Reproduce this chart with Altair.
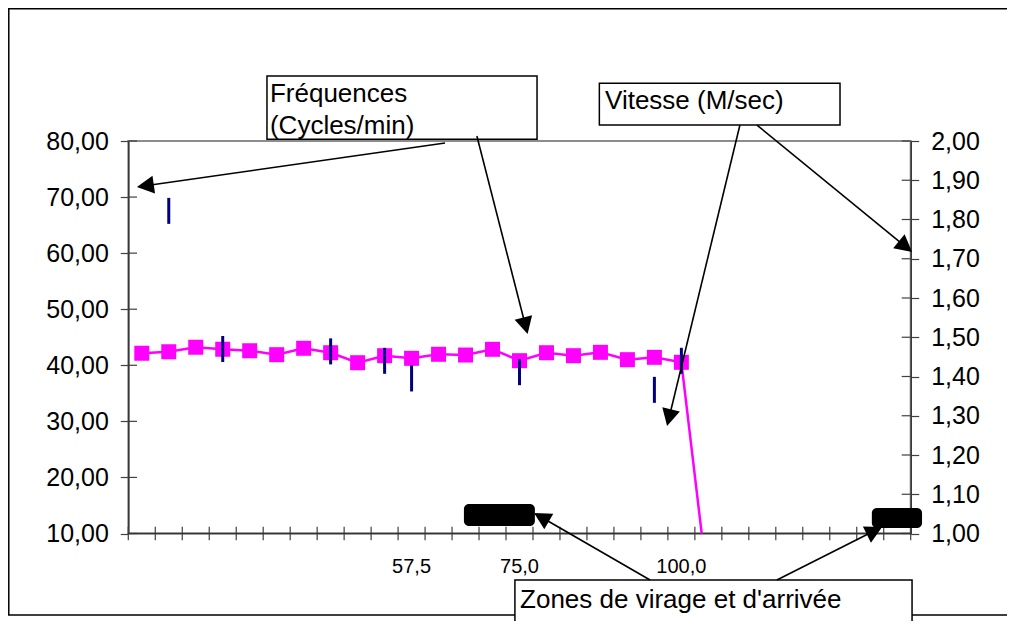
import math
import altair as alt
import pandas as pd

# ---------------- data ----------------
n_cat = 29  # category slots on the x axis
freq = [42.14, 42.42, 43.21, 42.85, 42.60, 41.89, 43.03, 42.24, 40.46, 41.71,
        41.24, 41.96, 41.83, 42.85, 40.82, 42.24, 41.71, 42.31, 41.00, 41.42,
        40.53, 0.0]
vit_cat = [1, 3, 7, 9, 10, 14, 19, 20]
vit_val = [1.822, 1.470, 1.464, 1.440, 1.395, 1.411, 1.366, 1.440]
x_label_cat = [10, 14, 20]
x_label_txt = ["57,5", "75,0", "100,0"]
left_ticks = [10, 20, 30, 40, 50, 60, 70, 80]
right_ticks = [1.0, 1.1, 1.2, 1.3, 1.4, 1.5, 1.6, 1.7, 1.8, 1.9, 2.0]

# annotations, placed in chart units (x: category slots, y: left axis units)
box_x = [5.14, 17.46, 14.33]
box_x2 = [15.15, 26.38, 29.05]
box_y = [91.59, 90.29, 1.71]
box_y2 = [80.30, 82.85, -9.0]

txt = ["Fréquences", "(Cycles/min)", "Vitesse (M/sec)", "Zones de virage et d'arrivée"]
txt_x = [5.25, 5.25, 17.67, 14.52]
txt_y = [86.96, 81.25, 85.65, -3.29]

blob_x = [12.44, 27.56]
blob_x2 = [15.07, 29.42]
blob_y = [15.26, 14.55]
blob_y2 = [11.34, 10.98]

arr_sx = [11.74, 12.92, 22.67, 23.30, 19.34, 24.04]
arr_sy = [79.64, 80.89, 82.85, 82.85, 1.71, 1.71]
arr_tx = [0.32, 14.80, 19.97, 29.05, 15.04, 27.94]
arr_ty = [71.80, 45.58, 29.17, 60.20, 13.65, 11.16]

# ---------------- layout ----------------
PW, PH = 782.4, 392.5
XPX = PW / n_cat
YPX = PH / 70.0
VIT_HALF = 13.0 / PH  # half length of the speed ticks, in right-axis units
HEAD = 8.5
FONT = "Liberation Sans"
AX = "#333333"
TK = "#404040"

main_df = pd.DataFrame({"pos": [i + 0.5 for i in range(len(freq))], "freq": freq})
vit_df = pd.DataFrame({"pos": [c + 0.5 for c in vit_cat], "v": vit_val})
vit_df["lo"] = vit_df["v"] - VIT_HALF
vit_df["hi"] = vit_df["v"] + VIT_HALF

heads = []
lines = []
for sx, sy, tx, ty in zip(arr_sx, arr_sy, arr_tx, arr_ty):
    dxp = (tx - sx) * XPX
    dyp = -(ty - sy) * YPX
    L = math.hypot(dxp, dyp)
    ux, uy = dxp / L, dyp / L
    ang = math.degrees(math.atan2(ux, -uy)) % 360
    cx = tx - ux * HEAD / XPX
    cy = ty + uy * HEAD / YPX
    heads.append({"x": cx, "y": cy, "ang": ang})
    lines.append({"x": sx, "y": sy, "x2": cx, "y2": cy})
heads_df = pd.DataFrame(heads)
lines_df = pd.DataFrame(lines)

boxes_df = pd.DataFrame({"x": box_x, "x2": box_x2, "y": box_y, "y2": box_y2})
blobs_df = pd.DataFrame({"x": blob_x, "x2": blob_x2, "y": blob_y, "y2": blob_y2})
txt_df = pd.DataFrame({"t": txt, "x": txt_x, "y": txt_y})
border_df = pd.DataFrame({"x": [-4.43], "x2": [33.5], "y": [103.58], "y2": [-4.54]})

left_in = pd.DataFrame({"v": left_ticks, "x0": 0.0, "x1": 8.7 / XPX})
right_in = pd.DataFrame({"v": right_ticks, "x0": n_cat - 9.0 / XPX, "x1": float(n_cat)})
bottom_ticks = pd.DataFrame({"b": list(range(n_cat + 1)),
                             "y0": 10.0 - 6.7 / YPX, "y1": 10.0 + 6.7 / YPX})
bottom_dom = pd.DataFrame({"x": [0.0], "x2": [float(n_cat)], "y": [10.0]})
xlab_df = pd.DataFrame({"pos": [c + 0.5 for c in x_label_cat], "t": x_label_txt,
                        "y": 10.0 - 39.5 / YPX})

x_scale = alt.Scale(domain=[0, n_cat], nice=False, zero=False)
yl_scale = alt.Scale(domain=[10, 80], nice=False, zero=False)
yr_scale = alt.Scale(domain=[1, 2], nice=False, zero=False)

yl_axis = alt.Axis(values=left_ticks, labelExpr="replace(format(datum.value, '.2f'), '.', ',')",
                   tickSize=8, tickColor=TK, tickWidth=1.2, domainColor=AX, domainWidth=1.5,
                   labelFont=FONT, labelFontSize=25, labelColor="black", labelPadding=12,
                   grid=False, title=None, orient="left")
yr_axis = alt.Axis(values=right_ticks, labelExpr="replace(format(datum.value, '.2f'), '.', ',')",
                   tickSize=8, tickColor=TK, tickWidth=1.2, domainColor=AX, domainWidth=1.5,
                   labelFont=FONT, labelFontSize=25, labelColor="black", labelPadding=12,
                   grid=False, title=None, orient="right")


def X(f):
    return alt.X(f, scale=x_scale, axis=None)


def YL(f, axis=None):
    return alt.Y(f, scale=yl_scale, axis=axis)


def YR(f, axis=None):
    return alt.Y(f, scale=yr_scale, axis=axis)


border = alt.Chart(border_df).mark_rect(fillOpacity=0, stroke="black", strokeWidth=1.5).encode(
    x=X("x:Q"), x2="x2:Q", y=YL("y:Q"), y2="y2:Q")

l_in = alt.Chart(left_in).mark_rule(color=TK, strokeWidth=1.2).encode(
    x=X("x0:Q"), x2="x1:Q", y=YL("v:Q"))
r_in = alt.Chart(right_in).mark_rule(color=TK, strokeWidth=1.2).encode(
    x=X("x0:Q"), x2="x1:Q", y=YR("v:Q"))
b_tk = alt.Chart(bottom_ticks).mark_rule(color=TK, strokeWidth=1.2).encode(
    x=X("b:Q"), y=YL("y0:Q"), y2="y1:Q")
b_dom = alt.Chart(bottom_dom).mark_rule(color=AX, strokeWidth=1.5).encode(
    x=X("x:Q"), x2="x2:Q", y=YL("y:Q"))
xlabs = alt.Chart(xlab_df).mark_text(align="center", baseline="alphabetic", font=FONT,
                                     fontSize=20, color="black").encode(
    x=X("pos:Q"), y=YL("y:Q"), text="t:N")

line = alt.Chart(main_df).mark_line(color="#FF00FF", strokeWidth=2.5, clip=True).encode(
    x=X("pos:Q"), y=YL("freq:Q", yl_axis))
pts = alt.Chart(main_df).mark_point(shape="square", filled=True, size=225, color="#FF00FF",
                                    opacity=1, clip=True).encode(
    x=X("pos:Q"), y=YL("freq:Q"))
vit = alt.Chart(vit_df).mark_rule(color="#000080", strokeWidth=3).encode(
    x=X("pos:Q"), y=YR("lo:Q", yr_axis), y2="hi:Q")

boxes = alt.Chart(boxes_df).mark_rect(fill="white", stroke="black", strokeWidth=1.5).encode(
    x=X("x:Q"), x2="x2:Q", y=YL("y:Q"), y2="y2:Q")
blobs = alt.Chart(blobs_df).mark_rect(color="black", cornerRadius=5).encode(
    x=X("x:Q"), x2="x2:Q", y=YL("y:Q"), y2="y2:Q")
arr_lines = alt.Chart(lines_df).mark_rule(color="black", strokeWidth=1.6).encode(
    x=X("x:Q"), x2="x2:Q", y=YL("y:Q"), y2="y2:Q")
arr_heads = alt.Chart(heads_df).mark_point(shape="M0,-1L1.06,1L-1.06,1Z", filled=True,
                                           color="black", opacity=1,
                                           size=(2 * HEAD) ** 2).encode(
    x=X("x:Q"), y=YL("y:Q"), angle=alt.Angle("ang:Q", scale=None))
texts = alt.Chart(txt_df).mark_text(align="left", baseline="alphabetic", font=FONT,
                                    fontSize=26, color="black").encode(
    x=X("x:Q"), y=YL("y:Q"), text="t:N")

chart = alt.layer(
    border, l_in, r_in, b_tk, b_dom, xlabs, line, pts, vit,
    boxes, blobs, arr_lines, arr_heads, texts
).resolve_scale(y="independent").properties(
    width=PW, height=PH,
    autosize=alt.AutoSizeParams(type="none"),
    padding={"left": 120.3, "top": 133, "right": 96.3, "bottom": 87.5},
    background="white",
).configure_view(stroke="#8c8c8c", strokeWidth=2)

chart.save("out.html", embed_options={"renderer": "svg", "actions": False})
